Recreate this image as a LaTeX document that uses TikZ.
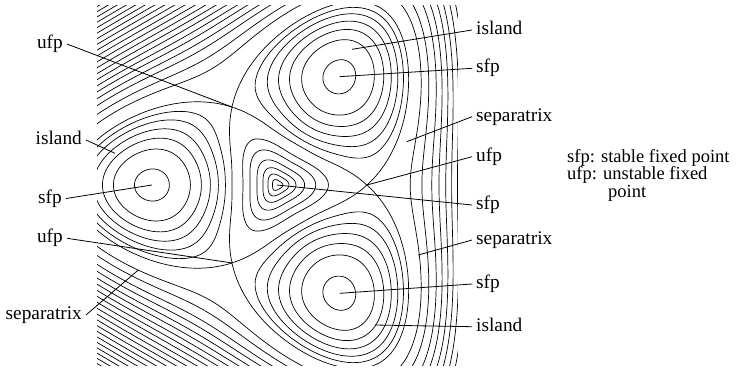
\documentclass[tikz,border=0pt]{standalone}
\usepackage{fontspec}
\setmainfont{Liberation Serif}

\tikzset{
  cline/.style={line width=0.7bp},
  leader/.style={line width=0.8bp},
  lbl/.style={inner xsep=4bp, inner ysep=0pt, text height=13bp, text depth=4bp,
    font=\fontsize{19.3bp}{15bp}\selectfont},
  legend/.style={inner sep=0pt, font=\fontsize{18.5bp}{15bp}\selectfont},
}

% one sixth of a level curve: radius #1 -> #2, level #3, end angles #4 and #5
\newcommand\mkpiece[5]{%
  \xdef\ptlist{(#4:#1)}%
  \foreach \k in {1,...,23}{%
    \pgfmathsetmacro\rcur{#1+(#2-#1)*(1-cos(7.5*\k))/2}%
    \pgfmathsetmacro\gcur{(2*(#3)-Hp(\rcur)-Hm(\rcur))/(Hp(\rcur)-Hm(\rcur))}%
    \pgfmathsetmacro\acur{acos(max(-1,min(1,\gcur)))/3}%
    \xdef\ptlist{\ptlist (\acur:\rcur)}%
  }%
  \xdef\ptlist{\ptlist (#5:#2)}%
}
% six copies: threefold rotation and mirror
\newcommand\drawsix{%
  \foreach \ang in {0,120,240}{%
    \edef\tmp{\noexpand\draw[cline,rotate=\ang] plot[smooth] coordinates {\ptlist};
      \noexpand\draw[cline,rotate=\ang,yscale=-1] plot[smooth] coordinates {\ptlist};}%
    \tmp
  }%
}

\begin{document}
\begin{tikzpicture}[x=1bp,y=1bp,
  declare function={Hp(\x)=-3*\x*\x+2*\x*\x*\x;
    Hm(\x)=(\x<0.5)?(-5*\x*\x+2*\x*\x*\x):(-1+2.53*((\x-1.39)*(\x-1.39)-0.7921));}]
\useasboundingbox (0,0) rectangle (741,-370);

\begin{scope}[shift={(277,-185)},scale=90]
  % fixed points
  \coordinate (sfpC) at (0,0);
  \coordinate (ufpR) at (0:1);
  \coordinate (ufpT) at (120:1);
  \coordinate (ufpB) at (240:1);
  \coordinate (sfpT) at (60:1.39);
  \coordinate (sfpL) at (180:1.39);
  \coordinate (sfpB) at (300:1.39);
  \clip (-2,-2) rectangle (2.011,2);
  % curves round the centre
  \foreach \rin in {0.05,0.1,0.156,0.222,0.3,0.378}{
    \pgfmathsetmacro\hh{Hm(\rin)}
    \pgfmathsetmacro\rp{0.5+cos(acos(1+2*(\hh))/3-120)}
    \mkpiece{\rin}{\rp}{\hh}{60}{0}\drawsix
  }
  % islands
  \foreach \rin in {1.196,0.962,0.84,0.74,0.651,0.573}{
    \pgfmathsetmacro\hh{Hm(\rin)}
    \pgfmathsetmacro\rp{2.78-\rin}
    \mkpiece{\rin}{\rp}{\hh}{60}{60}\drawsix
  }
  % separatrix
  \mkpiece{0.5}{1}{-1}{60}{0}\drawsix
  \mkpiece{1}{2.28}{-1}{0}{60}\drawsix
  % outer curves
  \foreach \rin in {1.48,1.61,1.72,1.80,1.875,1.94,2.005,2.066,2.126,2.185,2.243,
      2.30,2.356,2.411,2.465,2.518,2.57,2.621,2.671,2.72,2.768}{
    \pgfmathsetmacro\hh{Hp(\rin)}
    \pgfmathsetmacro\rp{1.39+sqrt((\hh+1)/2.53+0.7921)}
    \mkpiece{\rin}{\rp}{\hh}{0}{60}\drawsix
  }
\end{scope}

% leader ends off the fixed points
\coordinate (islT) at (352,-49.3);
\coordinate (sepR1) at (406.7,-141.7);
\coordinate (sepR2) at (418.3,-255);
\coordinate (islB) at (375,-325);
\coordinate (islL) at (115,-153.3);
\coordinate (sepL) at (138.3,-270);

% left labels
\node[lbl,anchor=east] (lufpT) at (67,-44) {ufp};
\node[lbl,anchor=east] (lisl) at (86,-140) {island};
\node[lbl,anchor=east] (lsfp) at (66,-198.5) {sfp};
\node[lbl,anchor=east] (lufpB) at (67,-238.3) {ufp};
\node[lbl,anchor=east] (lsep) at (86,-315) {separatrix};
\draw[leader] (lufpT.east) -- (ufpT);
\draw[leader] (lisl.east) -- (islL);
\draw[leader] (lsfp.east) -- (sfpL);
\draw[leader] (lufpB.east) -- (ufpB);
\draw[leader] (lsep.east) -- (sepL);

% right labels
\node[lbl,anchor=west] (risl) at (472,-30) {island};
\node[lbl,anchor=west] (rsfpT) at (472,-68.3) {sfp};
\node[lbl,anchor=west] (rsepT) at (472,-116.7) {separatrix};
\node[lbl,anchor=west] (rufp) at (472,-156.7) {ufp};
\node[lbl,anchor=west] (rsfpC) at (472,-205) {sfp};
\node[lbl,anchor=west] (rsepB) at (472,-240) {separatrix};
\node[lbl,anchor=west] (rsfpB) at (472,-284) {sfp};
\node[lbl,anchor=west] (rislB) at (472,-326.7) {island};
\draw[leader] (risl.west) -- (islT);
\draw[leader] (rsfpT.west) -- (sfpT);
\draw[leader] (rsepT.west) -- (sepR1);
\draw[leader] (rufp.west) -- (ufpR);
\draw[leader] (rsfpC.west) -- (sfpC);
\draw[leader] (rsepB.west) -- (sepR2);
\draw[leader] (rsfpB.west) -- (sfpB);
\draw[leader] (rislB.west) -- (islB);

% legend
\node[legend,anchor=base west] (legS) at (567,-162) {sfp: stable fixed point};
\node[legend,anchor=base west] (legU) at (567,-179.5) {ufp: unstable fixed};
\node[legend,anchor=base west] (legP) at (608,-197) {point};
\end{tikzpicture}
\end{document}
